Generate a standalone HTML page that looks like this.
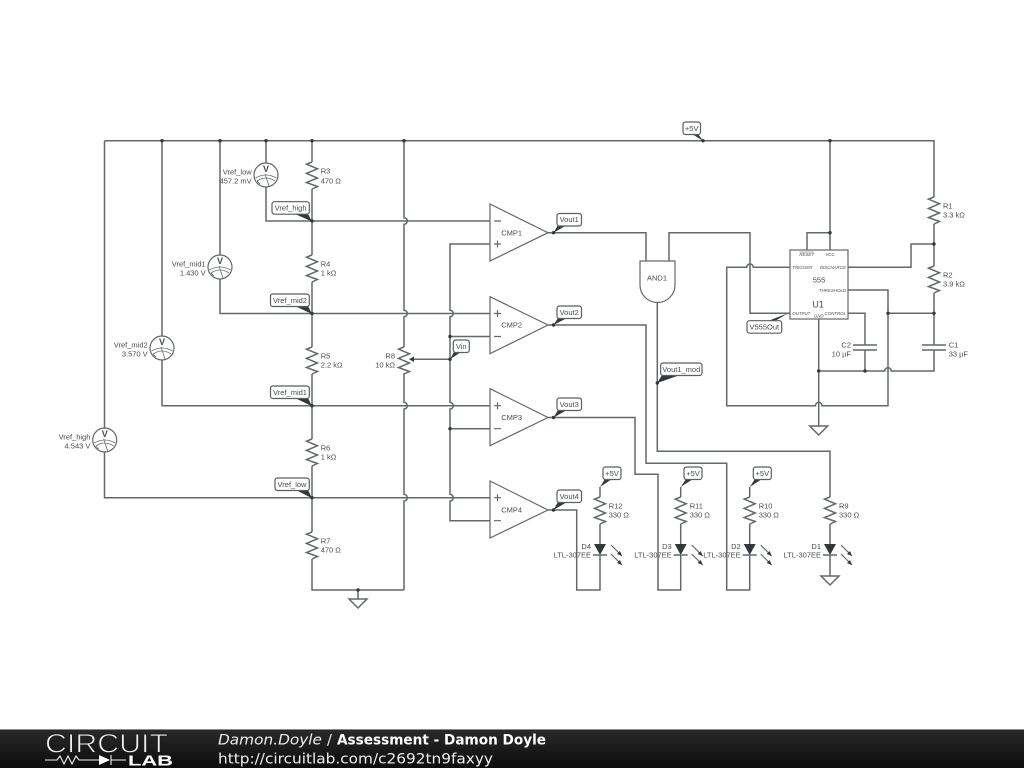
<!DOCTYPE html>
<html><head><meta charset="utf-8"><style>
html,body{margin:0;padding:0;background:#fff;width:1024px;height:768px;overflow:hidden}
svg{display:block}
text{font-family:"Liberation Sans",sans-serif;font-size:7.5px;fill:#4c4c4c}
.w{fill:none;stroke:#63686b;stroke-width:1.5}
.s{fill:none;stroke:#63686b;stroke-width:1.2}
.t{fill:#fff;stroke:#5a5f62;stroke-width:1.2}
.k{fill:#33383b}
.e{text-anchor:end}.m{text-anchor:middle}
.p{font-size:4.4px;font-style:italic}
.d{font-family:"DejaVu Sans",sans-serif;font-size:14.6px}
</style></head><body>
<svg width="1024" height="768" viewBox="0 0 1024 768" xmlns="http://www.w3.org/2000/svg">
<defs>
<path id="r" class="w" d="M0 0L-5.5 2.2L5.5 6.8L-5.5 11.4L5.5 16L-5.5 20.6L5.5 24.5L0 27"/>
<g id="vm"><circle class="s" r="12" style="fill:#fff"/><path class="s" style="stroke-width:.8" d="M-10.5 3Q0 -3 10.5 3M-9 6Q0 0 9 6M-1 -1L3 11M-9 6L-6 9"/><text class="m" y="-3" style="font-size:9px;font-weight:bold">V</text></g>
<g id="led"><polygon class="k" points="-6,0 6,0 0,11"/><path class="w" d="M-7 11H7"/><path class="s" d="M11 1L22 12M11 10L22 21"/><polygon class="k" points="22,12 17,10 20,7"/><polygon class="k" points="22,21 17,19 20,16"/></g>
<polygon id="gnd" class="w" points="-9,0 9,0 0,9"/>
<circle id="j" class="k" r="1.7"/>
</defs>

<!-- wires -->
<path class="w" d="M104.5 140.7H934V197M934 224V266M934 293V345M934 350V371H891.3A3.3 3.3 0 0 0 884.7 371H818.7"/>
<path class="w" d="M104.5 140.7V428M104.5 452V497.7H490"/>
<path class="w" d="M162 140.7V336M162 360V405.7H490"/>
<path class="w" d="M220 140.7V255M220 279V313.5H490"/>
<path class="w" d="M266 140.7V163M266 187V221H490"/>
<path class="w" d="M312 140.7V162M312 189V255M312 282V347M312 374V439M312 466V532M312 559V590H404"/>
<path class="w" d="M404 140.7V217.7A3.3 3.3 0 0 1 404 224.3V310.2A3.3 3.3 0 0 1 404 316.8V347M404 373V402.4A3.3 3.3 0 0 1 404 409V494.4A3.3 3.3 0 0 1 404 501V590"/>
<path class="w" d="M358 590V599"/>
<path class="w" d="M490 244H450V310.2A3.3 3.3 0 0 1 450 316.8V402.4A3.3 3.3 0 0 1 450 409V494.4A3.3 3.3 0 0 1 450 501V520.7H490M450 336.5H490M450 428.7H490M412 359.3H450"/>
<path class="w" d="M548 232.7H646V261M669 261V232.7H750V313.3H790"/>
<path class="w" d="M790 267.3H753.3A3.3 3.3 0 0 0 746.7 267.3H726.7V405.7H815.4A3.3 3.3 0 0 1 822 405.7H888V290H848"/>
<path class="w" d="M818.7 319V426M807 250V232.7H830M830 140.7V250"/>
<path class="w" d="M848 267.3H911V244H934M888 313.3H934M848 313.3H865V345M865 350V371"/>
<path class="w" d="M853 345H877M853 350H877M922 345H946M922 350H946"/>
<path class="w" d="M548 325H646V463.3H726.7V590H749.7V555M548 417.5H635V474.3H658V590H680.7V555M548 510H576.7V590H600V555"/>
<path class="w" d="M657.3 302V451.3H830V497M830 524V544M830 555V576"/>
<path class="w" d="M600 487V497M600 524V544M680.7 487V497M680.7 524V544M749.7 487V497M749.7 524V544"/>

<!-- resistors -->
<use href="#r" x="312" y="162"/><use href="#r" x="312" y="255"/><use href="#r" x="312" y="347"/><use href="#r" x="312" y="439"/><use href="#r" x="312" y="532"/><use href="#r" x="404" y="347"/>
<use href="#r" x="934" y="197"/><use href="#r" x="934" y="266"/>
<use href="#r" x="600" y="497"/><use href="#r" x="680.7" y="497"/><use href="#r" x="749.7" y="497"/><use href="#r" x="830" y="497"/>
<polygon class="k" points="409,359.3 414,356.5 414,362"/>

<!-- junctions -->
<use href="#j" x="162" y="140.7"/><use href="#j" x="220" y="140.7"/><use href="#j" x="266" y="140.7"/><use href="#j" x="312" y="140.7"/><use href="#j" x="404" y="140.7"/><use href="#j" x="830" y="140.7"/>
<use href="#j" x="312" y="221"/><use href="#j" x="312" y="313.5"/><use href="#j" x="312" y="405.7"/><use href="#j" x="312" y="497.7"/><use href="#j" x="358" y="590"/>
<use href="#j" x="450" y="336.5"/><use href="#j" x="450" y="359.3"/><use href="#j" x="450" y="428.7"/>
<use href="#j" x="553.5" y="232.7"/><use href="#j" x="553.5" y="325"/><use href="#j" x="553.5" y="417.5"/><use href="#j" x="553.5" y="510"/><use href="#j" x="657.3" y="383"/>
<use href="#j" x="830" y="232.7"/><use href="#j" x="934" y="244"/><use href="#j" x="888" y="313.3"/><use href="#j" x="934" y="313.3"/><use href="#j" x="818.7" y="371"/><use href="#j" x="865" y="371"/><use href="#j" x="703" y="140.7"/>

<!-- grounds -->
<use href="#gnd" x="358" y="599"/><use href="#gnd" x="818.7" y="426"/><use href="#gnd" x="830" y="576"/>

<!-- voltmeters -->
<use href="#vm" x="266" y="175"/><use href="#vm" x="220" y="267"/><use href="#vm" x="162" y="348"/><use href="#vm" x="104.7" y="440"/>

<!-- comparators -->
<polygon class="s" style="fill:#fff" points="490,204 548,232.7 490,261"/>
<polygon class="s" style="fill:#fff" points="490,296.7 548,325 490,353.7"/>
<polygon class="s" style="fill:#fff" points="490,388.7 548,417.5 490,445.7"/>
<polygon class="s" style="fill:#fff" points="490,481 548,510 490,538"/>
<path class="s" d="M494 221H501M494 244H501M497.5 240.500V247.500M494 313.500H501M497.500 310V317M494 336.500H501M494 405.700H501M497.500 402.200V409.200M494 428.700H501M494 497.700H501M497.500 494.200V501.200M494 520.700H501"/>
<text class="m" x="511.700" y="235.400">CMP1</text><text class="m" x="511.700" y="327.700">CMP2</text><text class="m" x="511.700" y="420.200">CMP3</text><text class="m" x="511.700" y="512.700">CMP4</text>

<!-- AND -->
<path class="s" style="fill:#fff" d="M640 261H675V285A17.500 17.500 0 0 1 640 285Z"/>
<text class="m" x="657" y="280.700">AND1</text>

<!-- 555 -->
<rect class="s" style="fill:#fff" x="790" y="250" width="58" height="69"/>
<text class="p m" x="806.700" y="255.800" style="text-decoration:overline">RESET</text><text class="p m" x="830" y="255.800">VCC</text>
<text class="p" x="792.300" y="269">TRIGGER</text><text class="p e" x="846" y="269">DISCHARGE</text>
<text class="p e" x="846" y="291.800">THRESHOLD</text><text class="p" x="792.300" y="315">OUTPUT</text><text class="p e" x="846" y="315">CONTROL</text><text class="p m" x="818.700" y="317.700">GND</text>
<text class="m" x="819" y="282.700">555</text><text class="m" x="818" y="307.500" style="font-size:9px">U1</text>

<!-- LEDs -->
<use href="#led" x="600" y="544"/><use href="#led" x="680.700" y="544"/><use href="#led" x="749.700" y="544"/><use href="#led" x="830" y="544"/>

<!-- tags -->
<g>
<polygon class="k" points="295,214 308,214 312,221.500"/><rect class="t" x="272" y="201.700" width="37.300" height="12.500" rx="2.500"/><text class="m" x="290.600" y="210.500">Vref_high</text>
<polygon class="k" points="295,306 308,306 312,314"/><rect class="t" x="270.500" y="294" width="38.800" height="12.500" rx="2.500"/><text class="m" x="290" y="303">Vref_mid2</text>
<polygon class="k" points="295,398 308,398 312,406.200"/><rect class="t" x="270.500" y="386" width="38.800" height="12.500" rx="2.500"/><text class="m" x="290" y="395">Vref_mid1</text>
<polygon class="k" points="296,490 308,490 312,498.200"/><rect class="t" x="275" y="478" width="34.300" height="12.500" rx="2.500"/><text class="m" x="292" y="487">Vref_low</text>
<polygon class="k" points="558,225 567,225 553.500,232.700"/><rect class="t" x="557" y="213.500" width="24.500" height="12.500" rx="2.500"/><text class="m" x="569.200" y="222">Vout1</text>
<polygon class="k" points="558,318 567,318 553.500,325"/><rect class="t" x="557" y="306" width="24.500" height="12.500" rx="2.500"/><text class="m" x="569.200" y="315">Vout2</text>
<polygon class="k" points="558,410 567,410 553.500,417.500"/><rect class="t" x="557" y="398" width="24.500" height="12.500" rx="2.500"/><text class="m" x="569.200" y="407">Vout3</text>
<polygon class="k" points="558,502 567,502 553.500,510"/><rect class="t" x="557" y="490" width="24.500" height="12.500" rx="2.500"/><text class="m" x="569.200" y="499">Vout4</text>
<polygon class="k" points="454,352 461,352 450,359.300"/><rect class="t" x="453.300" y="340" width="16" height="12.500" rx="2.500"/><text class="m" x="461.200" y="349">Vin</text>
<polygon class="k" points="662,375 680,375 657.300,383"/><rect class="t" x="660.700" y="363" width="41.300" height="12.500" rx="2.500"/><text class="m" x="681.300" y="372">Vout1_mod</text>
<polygon class="k" points="768,321 775,321 788,313.300"/><rect class="t" x="747" y="320.700" width="34.700" height="12.500" rx="2.500"/><text class="m" x="764.300" y="329.700">V555Out</text>
<polygon class="k" points="692,134 698,134 703,140.700"/><rect class="t" x="683" y="122" width="17.500" height="12.500" rx="2.500"/><text class="m" x="691.700" y="131">+5V</text>
<polygon class="k" points="605,479 612,479 600,487"/><rect class="t" x="603" y="467" width="18" height="12.500" rx="2.500"/><text class="m" x="612" y="476">+5V</text>
<polygon class="k" points="686,479 693,479 680.700,487"/><rect class="t" x="684" y="467" width="18" height="12.500" rx="2.500"/><text class="m" x="693" y="476">+5V</text>
<polygon class="k" points="755,479 762,479 749.700,487"/><rect class="t" x="753.300" y="467" width="18" height="12.500" rx="2.500"/><text class="m" x="762.300" y="476">+5V</text>
</g>

<!-- labels -->
<text x="320.700" y="173.700">R3</text><text x="320.700" y="183.400">470 Ω</text>
<text x="320.700" y="266.500">R4</text><text x="320.700" y="275.500">1 kΩ</text>
<text x="320.700" y="358.500">R5</text><text x="320.700" y="367.700">2.2 kΩ</text>
<text x="320.700" y="450.500">R6</text><text x="320.700" y="459.700">1 kΩ</text>
<text x="320.700" y="543.500">R7</text><text x="320.700" y="552.700">470 Ω</text>
<text class="e" x="395" y="358.400">R8</text><text class="e" x="395" y="367.700">10 kΩ</text>
<text x="943" y="208.500">R1</text><text x="943" y="217.700">3.3 kΩ</text>
<text x="943" y="277.500">R2</text><text x="943" y="286.700">3.9 kΩ</text>
<text class="e" x="851" y="347.400">C2</text><text class="e" x="851" y="356.400">10 µF</text>
<text x="948.700" y="347.400">C1</text><text x="948.700" y="356.400">33 µF</text>
<text class="e" x="251.700" y="174.300">Vref_low</text><text class="e" x="251.700" y="183.400">457.2 mV</text>
<text class="e" x="205.700" y="266.300">Vref_mid1</text><text class="e" x="205.700" y="275.400">1.430 V</text>
<text class="e" x="147.700" y="347.300">Vref_mid2</text><text class="e" x="147.700" y="356.400">3.570 V</text>
<text class="e" x="90.400" y="439.300">Vref_high</text><text class="e" x="90.400" y="448.400">4.543 V</text>
<text x="608.700" y="508.500">R12</text><text x="608.700" y="517.700">330 Ω</text>
<text x="689.700" y="508.500">R11</text><text x="689.700" y="517.700">330 Ω</text>
<text x="758.700" y="508.500">R10</text><text x="758.700" y="517.700">330 Ω</text>
<text x="839" y="508.500">R9</text><text x="839" y="517.700">330 Ω</text>
<text class="e" x="591" y="549">D4</text><text class="e" x="591" y="557.700">LTL-307EE</text>
<text class="e" x="671.700" y="549">D3</text><text class="e" x="671.700" y="557.700">LTL-307EE</text>
<text class="e" x="740.700" y="549">D2</text><text class="e" x="740.700" y="557.700">LTL-307EE</text>
<text class="e" x="821" y="549">D1</text><text class="e" x="821" y="557.700">LTL-307EE</text>

<!-- footer -->
<defs><linearGradient id="fg" x1="0" y1="0" x2="0" y2="1"><stop offset="0" stop-color="#2a2a2a"/><stop offset="1" stop-color="#0c0c0c"/></linearGradient></defs>
<rect x="0" y="729" width="1024" height="39" fill="url(#fg)"/>
<rect x="0" y="729" width="1024" height="1" fill="#8a8a8a"/>
<text x="45" y="752.500" textLength="123" lengthAdjust="spacingAndGlyphs" style="font-size:27px;fill:#f0f0f0;stroke:#1e1e1e;stroke-width:.9">CIRCUIT</text>
<path d="M45 760H57L60 756L64 764L68 756L72 764L76 756L79 760H99M111 755V765M111 760H126" fill="none" stroke="#eee" stroke-width="1.1"/>
<polygon points="99,755 99,765 110,760" fill="#fff"/>
<text x="128" y="765.500" textLength="45" lengthAdjust="spacingAndGlyphs" style="font-size:14.500px;font-weight:bold;fill:#fff">LAB</text>
<text class="d" x="218" y="744.500" textLength="104" lengthAdjust="spacingAndGlyphs" style="font-style:italic;fill:#eee">Damon.Doyle</text>
<text class="d" x="327" y="744.500" style="fill:#eee">/</text>
<text class="d" x="337" y="744.500" textLength="209" lengthAdjust="spacingAndGlyphs" style="font-weight:bold;fill:#fff">Assessment - Damon Doyle</text>
<text class="d" x="218" y="763.500" textLength="275" lengthAdjust="spacingAndGlyphs" style="fill:#eee">http://circuitlab.com/c2692tn9faxyy</text>
</svg>
</body></html>
